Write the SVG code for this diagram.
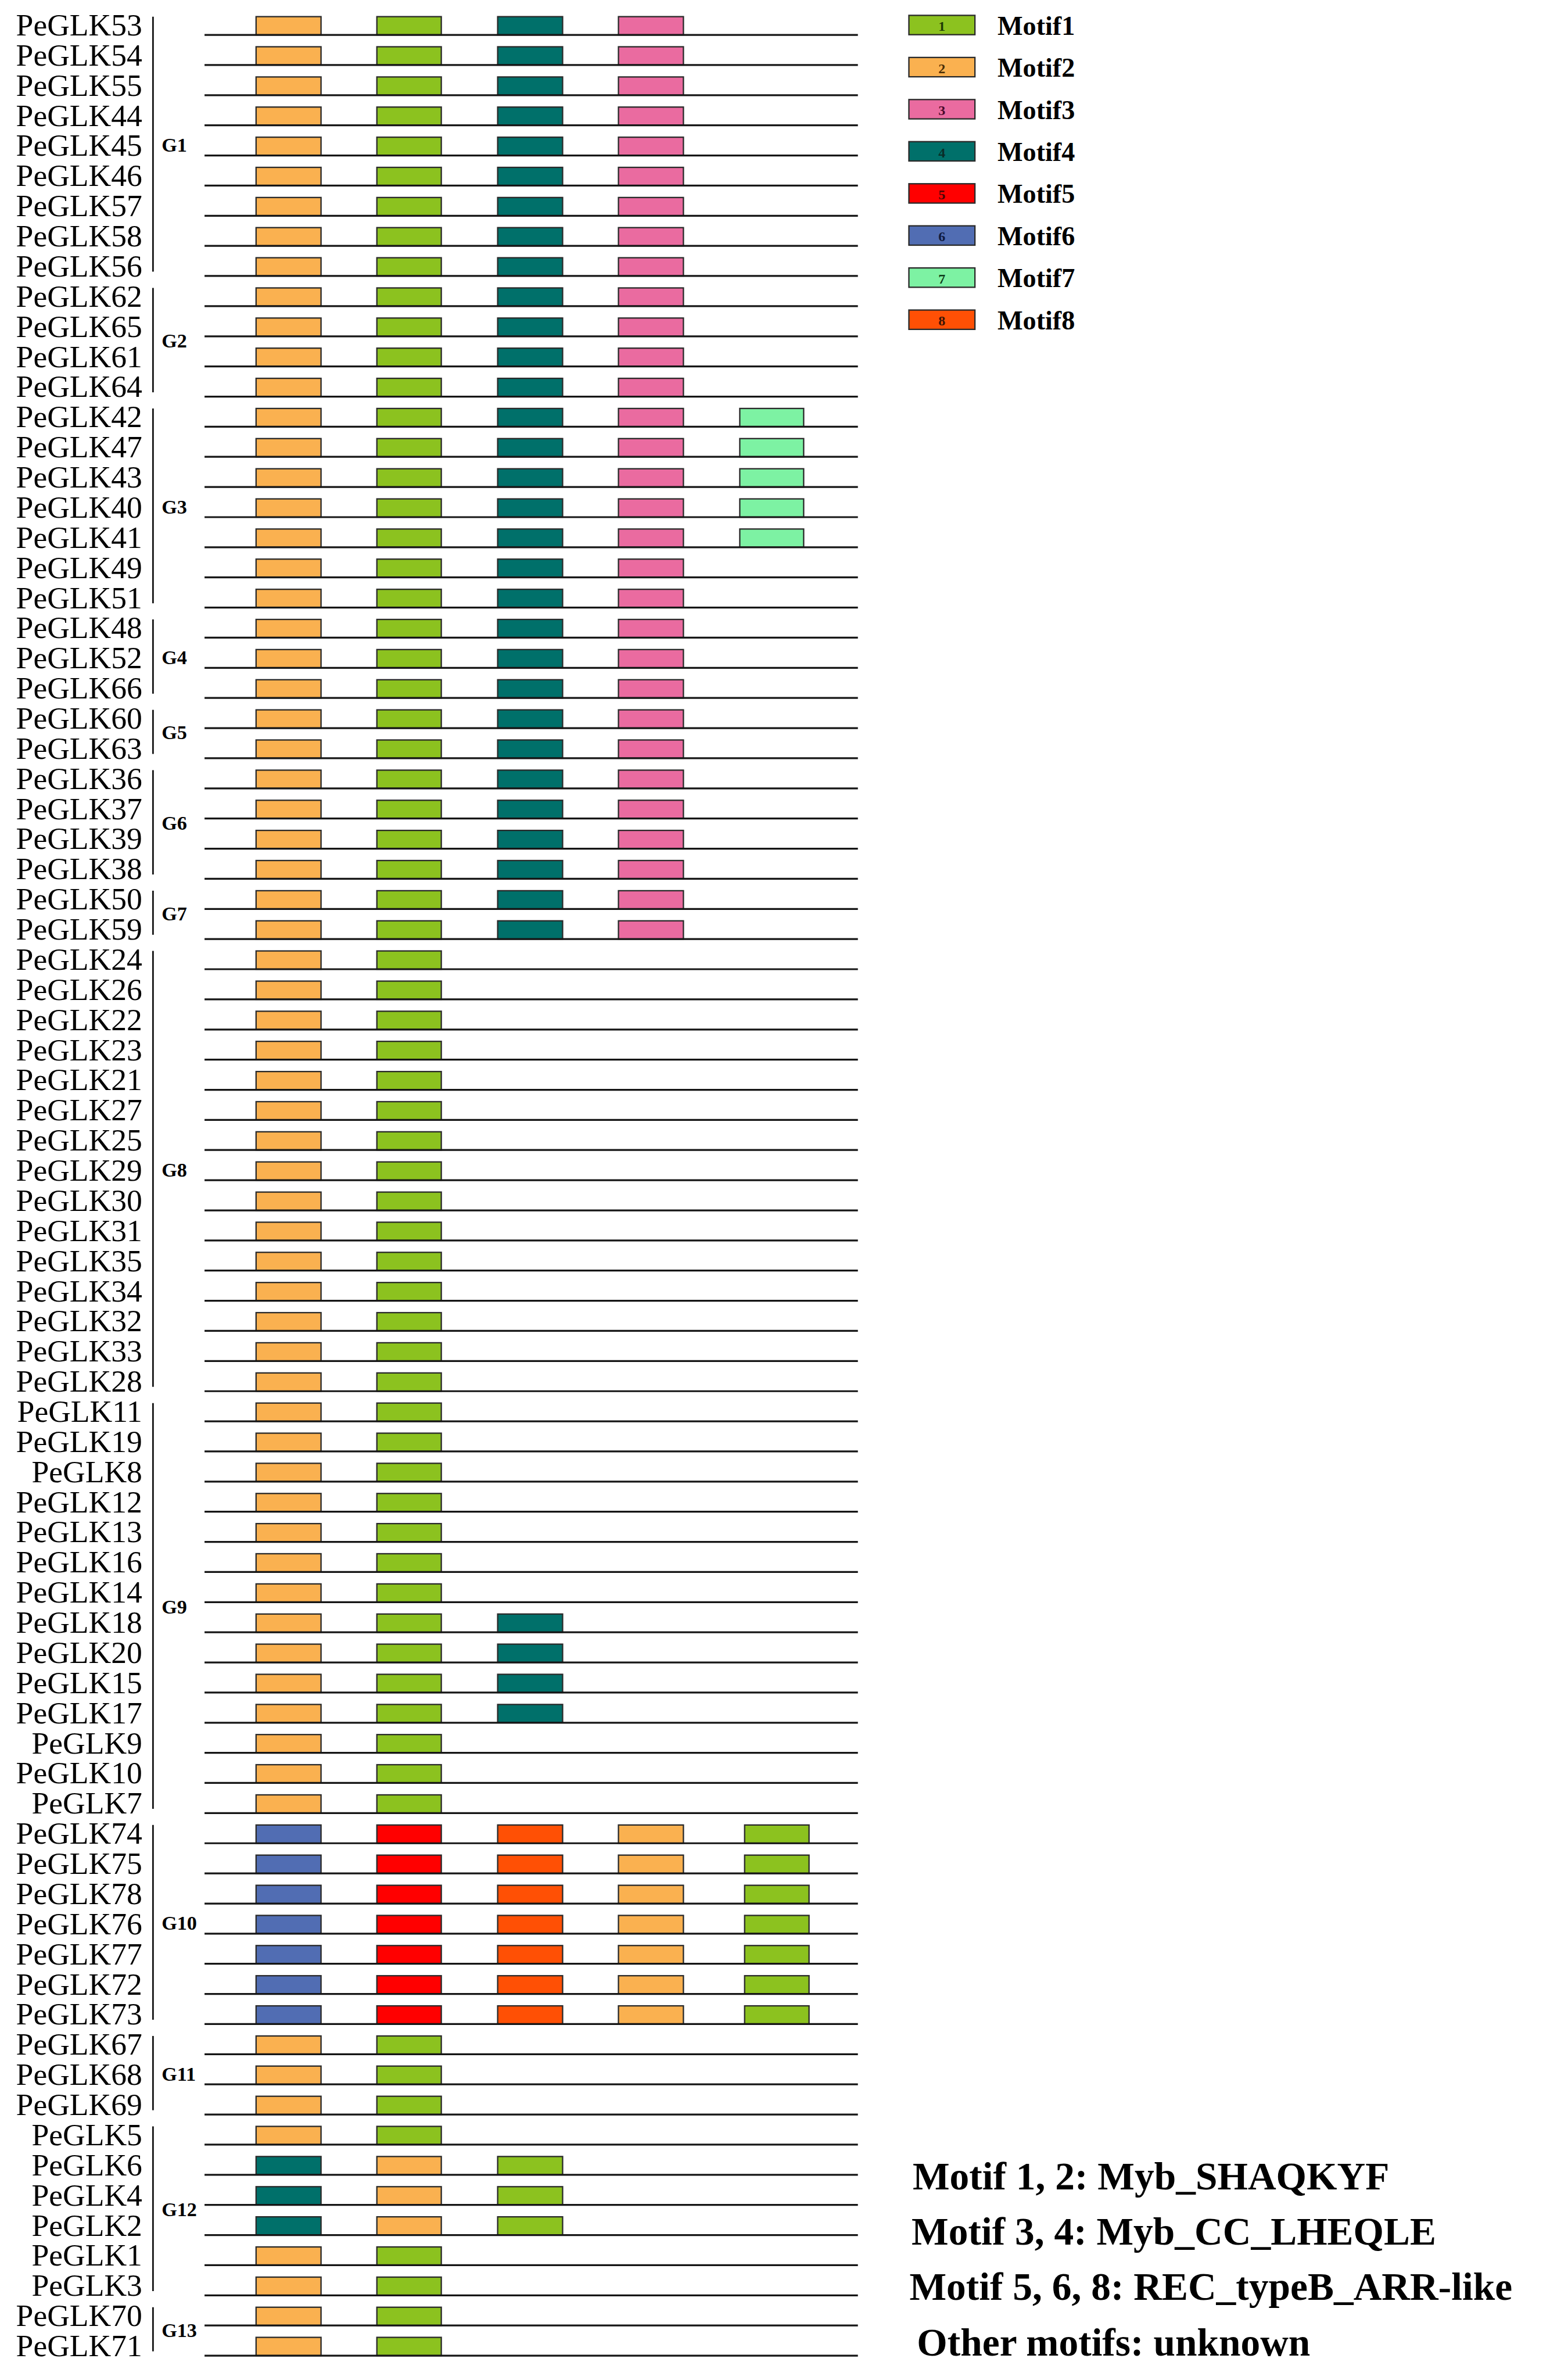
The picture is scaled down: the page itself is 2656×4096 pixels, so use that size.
<svg xmlns="http://www.w3.org/2000/svg" xmlns:xlink="http://www.w3.org/1999/xlink" width="2656" height="4096" viewBox="0 0 2656 4096">
<style>
.lbl{font-family:"Liberation Serif","Times New Roman",serif;font-size:58px;text-anchor:end;fill:#000}
.gl{font-family:"Liberation Serif","Times New Roman",serif;font-size:37px;font-weight:bold;fill:#000}
.lg{font-family:"Liberation Serif","Times New Roman",serif;font-size:50px;font-weight:bold;fill:#000}
.num{font-family:"Liberation Serif","Times New Roman",serif;font-size:26px;font-weight:bold;text-anchor:middle}
.note{font-family:"Liberation Serif","Times New Roman",serif;font-size:73px;font-weight:bold;fill:#000}
.ln{stroke:#161616;stroke-width:3.5}
.br{stroke:#111;stroke-width:3}
.bx{stroke:#2a2a2a;stroke-width:2.5}
.m1{fill:#8CC21F}.m2{fill:#FAB150}.m3{fill:#EA6BA0}.m4{fill:#00706A}
.m5{fill:#FF0000}.m6{fill:#516DB3}.m7{fill:#7DF2A3}.m8{fill:#FF5005}
</style>
<defs>
<g id="bk"><line class="ln" x1="381" y1="0" x2="1598" y2="0"/></g>
<g id="pA"><rect class="bx m2" x="477" y="-34" width="121" height="34"/><rect class="bx m1" x="702" y="-34" width="120" height="34"/><rect class="bx m4" x="927" y="-34" width="121" height="34"/><rect class="bx m3" x="1152" y="-34" width="121" height="34"/><use href="#bk"/></g>
<g id="pB"><rect class="bx m2" x="477" y="-34" width="121" height="34"/><rect class="bx m1" x="702" y="-34" width="120" height="34"/><use href="#bk"/></g>
<g id="pC"><rect class="bx m2" x="477" y="-34" width="121" height="34"/><rect class="bx m1" x="702" y="-34" width="120" height="34"/><rect class="bx m4" x="927" y="-34" width="121" height="34"/><use href="#bk"/></g>
<g id="pD"><rect class="bx m2" x="477" y="-34" width="121" height="34"/><rect class="bx m1" x="702" y="-34" width="120" height="34"/><rect class="bx m4" x="927" y="-34" width="121" height="34"/><rect class="bx m3" x="1152" y="-34" width="121" height="34"/><rect class="bx m7" x="1378" y="-34" width="119" height="34"/><use href="#bk"/></g>
<g id="pE"><rect class="bx m6" x="477" y="-34" width="121" height="34"/><rect class="bx m5" x="702" y="-34" width="120" height="34"/><rect class="bx m8" x="927" y="-34" width="121" height="34"/><rect class="bx m2" x="1152" y="-34" width="121" height="34"/><rect class="bx m1" x="1387" y="-34" width="120" height="34"/><use href="#bk"/></g>
<g id="pF"><rect class="bx m4" x="477" y="-34" width="121" height="34"/><rect class="bx m2" x="702" y="-34" width="120" height="34"/><rect class="bx m1" x="927" y="-34" width="121" height="34"/><use href="#bk"/></g>
</defs>
<rect x="0" y="0" width="2656" height="4096" fill="#fff"/>
<g transform="scale(0.9241)">
<g id="genes">
<g id="PeGLK53" transform="translate(0,65)"><text class="lbl" x="265" y="1">PeGLK53</text><use href="#pA"/></g>
<g id="PeGLK54" transform="translate(0,121.1)"><text class="lbl" x="265" y="1">PeGLK54</text><use href="#pA"/></g>
<g id="PeGLK55" transform="translate(0,177.3)"><text class="lbl" x="265" y="1">PeGLK55</text><use href="#pA"/></g>
<g id="PeGLK44" transform="translate(0,233.4)"><text class="lbl" x="265" y="1">PeGLK44</text><use href="#pA"/></g>
<g id="PeGLK45" transform="translate(0,289.5)"><text class="lbl" x="265" y="1">PeGLK45</text><use href="#pA"/></g>
<g id="PeGLK46" transform="translate(0,345.7)"><text class="lbl" x="265" y="1">PeGLK46</text><use href="#pA"/></g>
<g id="PeGLK57" transform="translate(0,401.8)"><text class="lbl" x="265" y="1">PeGLK57</text><use href="#pA"/></g>
<g id="PeGLK58" transform="translate(0,457.9)"><text class="lbl" x="265" y="1">PeGLK58</text><use href="#pA"/></g>
<g id="PeGLK56" transform="translate(0,514)"><text class="lbl" x="265" y="1">PeGLK56</text><use href="#pA"/></g>
<g id="PeGLK62" transform="translate(0,570.2)"><text class="lbl" x="265" y="1">PeGLK62</text><use href="#pA"/></g>
<g id="PeGLK65" transform="translate(0,626.3)"><text class="lbl" x="265" y="1">PeGLK65</text><use href="#pA"/></g>
<g id="PeGLK61" transform="translate(0,682.4)"><text class="lbl" x="265" y="1">PeGLK61</text><use href="#pA"/></g>
<g id="PeGLK64" transform="translate(0,738.6)"><text class="lbl" x="265" y="1">PeGLK64</text><use href="#pA"/></g>
<g id="PeGLK42" transform="translate(0,794.7)"><text class="lbl" x="265" y="1">PeGLK42</text><use href="#pD"/></g>
<g id="PeGLK47" transform="translate(0,850.8)"><text class="lbl" x="265" y="1">PeGLK47</text><use href="#pD"/></g>
<g id="PeGLK43" transform="translate(0,907)"><text class="lbl" x="265" y="1">PeGLK43</text><use href="#pD"/></g>
<g id="PeGLK40" transform="translate(0,963.1)"><text class="lbl" x="265" y="1">PeGLK40</text><use href="#pD"/></g>
<g id="PeGLK41" transform="translate(0,1019.2)"><text class="lbl" x="265" y="1">PeGLK41</text><use href="#pD"/></g>
<g id="PeGLK49" transform="translate(0,1075.3)"><text class="lbl" x="265" y="1">PeGLK49</text><use href="#pA"/></g>
<g id="PeGLK51" transform="translate(0,1131.5)"><text class="lbl" x="265" y="1">PeGLK51</text><use href="#pA"/></g>
<g id="PeGLK48" transform="translate(0,1187.6)"><text class="lbl" x="265" y="1">PeGLK48</text><use href="#pA"/></g>
<g id="PeGLK52" transform="translate(0,1243.7)"><text class="lbl" x="265" y="1">PeGLK52</text><use href="#pA"/></g>
<g id="PeGLK66" transform="translate(0,1299.9)"><text class="lbl" x="265" y="1">PeGLK66</text><use href="#pA"/></g>
<g id="PeGLK60" transform="translate(0,1356)"><text class="lbl" x="265" y="1">PeGLK60</text><use href="#pA"/></g>
<g id="PeGLK63" transform="translate(0,1412.1)"><text class="lbl" x="265" y="1">PeGLK63</text><use href="#pA"/></g>
<g id="PeGLK36" transform="translate(0,1468.3)"><text class="lbl" x="265" y="1">PeGLK36</text><use href="#pA"/></g>
<g id="PeGLK37" transform="translate(0,1524.4)"><text class="lbl" x="265" y="1">PeGLK37</text><use href="#pA"/></g>
<g id="PeGLK39" transform="translate(0,1580.5)"><text class="lbl" x="265" y="1">PeGLK39</text><use href="#pA"/></g>
<g id="PeGLK38" transform="translate(0,1636.6)"><text class="lbl" x="265" y="1">PeGLK38</text><use href="#pA"/></g>
<g id="PeGLK50" transform="translate(0,1692.8)"><text class="lbl" x="265" y="1">PeGLK50</text><use href="#pA"/></g>
<g id="PeGLK59" transform="translate(0,1748.9)"><text class="lbl" x="265" y="1">PeGLK59</text><use href="#pA"/></g>
<g id="PeGLK24" transform="translate(0,1805)"><text class="lbl" x="265" y="1">PeGLK24</text><use href="#pB"/></g>
<g id="PeGLK26" transform="translate(0,1861.2)"><text class="lbl" x="265" y="1">PeGLK26</text><use href="#pB"/></g>
<g id="PeGLK22" transform="translate(0,1917.3)"><text class="lbl" x="265" y="1">PeGLK22</text><use href="#pB"/></g>
<g id="PeGLK23" transform="translate(0,1973.4)"><text class="lbl" x="265" y="1">PeGLK23</text><use href="#pB"/></g>
<g id="PeGLK21" transform="translate(0,2029.6)"><text class="lbl" x="265" y="1">PeGLK21</text><use href="#pB"/></g>
<g id="PeGLK27" transform="translate(0,2085.7)"><text class="lbl" x="265" y="1">PeGLK27</text><use href="#pB"/></g>
<g id="PeGLK25" transform="translate(0,2141.8)"><text class="lbl" x="265" y="1">PeGLK25</text><use href="#pB"/></g>
<g id="PeGLK29" transform="translate(0,2197.9)"><text class="lbl" x="265" y="1">PeGLK29</text><use href="#pB"/></g>
<g id="PeGLK30" transform="translate(0,2254.1)"><text class="lbl" x="265" y="1">PeGLK30</text><use href="#pB"/></g>
<g id="PeGLK31" transform="translate(0,2310.2)"><text class="lbl" x="265" y="1">PeGLK31</text><use href="#pB"/></g>
<g id="PeGLK35" transform="translate(0,2366.3)"><text class="lbl" x="265" y="1">PeGLK35</text><use href="#pB"/></g>
<g id="PeGLK34" transform="translate(0,2422.5)"><text class="lbl" x="265" y="1">PeGLK34</text><use href="#pB"/></g>
<g id="PeGLK32" transform="translate(0,2478.6)"><text class="lbl" x="265" y="1">PeGLK32</text><use href="#pB"/></g>
<g id="PeGLK33" transform="translate(0,2534.7)"><text class="lbl" x="265" y="1">PeGLK33</text><use href="#pB"/></g>
<g id="PeGLK28" transform="translate(0,2590.9)"><text class="lbl" x="265" y="1">PeGLK28</text><use href="#pB"/></g>
<g id="PeGLK11" transform="translate(0,2647)"><text class="lbl" x="265" y="1">PeGLK11</text><use href="#pB"/></g>
<g id="PeGLK19" transform="translate(0,2703.1)"><text class="lbl" x="265" y="1">PeGLK19</text><use href="#pB"/></g>
<g id="PeGLK8" transform="translate(0,2759.2)"><text class="lbl" x="265" y="1">PeGLK8</text><use href="#pB"/></g>
<g id="PeGLK12" transform="translate(0,2815.4)"><text class="lbl" x="265" y="1">PeGLK12</text><use href="#pB"/></g>
<g id="PeGLK13" transform="translate(0,2871.5)"><text class="lbl" x="265" y="1">PeGLK13</text><use href="#pB"/></g>
<g id="PeGLK16" transform="translate(0,2927.6)"><text class="lbl" x="265" y="1">PeGLK16</text><use href="#pB"/></g>
<g id="PeGLK14" transform="translate(0,2983.8)"><text class="lbl" x="265" y="1">PeGLK14</text><use href="#pB"/></g>
<g id="PeGLK18" transform="translate(0,3039.9)"><text class="lbl" x="265" y="1">PeGLK18</text><use href="#pC"/></g>
<g id="PeGLK20" transform="translate(0,3096)"><text class="lbl" x="265" y="1">PeGLK20</text><use href="#pC"/></g>
<g id="PeGLK15" transform="translate(0,3152.2)"><text class="lbl" x="265" y="1">PeGLK15</text><use href="#pC"/></g>
<g id="PeGLK17" transform="translate(0,3208.3)"><text class="lbl" x="265" y="1">PeGLK17</text><use href="#pC"/></g>
<g id="PeGLK9" transform="translate(0,3264.4)"><text class="lbl" x="265" y="1">PeGLK9</text><use href="#pB"/></g>
<g id="PeGLK10" transform="translate(0,3320.5)"><text class="lbl" x="265" y="1">PeGLK10</text><use href="#pB"/></g>
<g id="PeGLK7" transform="translate(0,3376.7)"><text class="lbl" x="265" y="1">PeGLK7</text><use href="#pB"/></g>
<g id="PeGLK74" transform="translate(0,3432.8)"><text class="lbl" x="265" y="1">PeGLK74</text><use href="#pE"/></g>
<g id="PeGLK75" transform="translate(0,3488.9)"><text class="lbl" x="265" y="1">PeGLK75</text><use href="#pE"/></g>
<g id="PeGLK78" transform="translate(0,3545.1)"><text class="lbl" x="265" y="1">PeGLK78</text><use href="#pE"/></g>
<g id="PeGLK76" transform="translate(0,3601.2)"><text class="lbl" x="265" y="1">PeGLK76</text><use href="#pE"/></g>
<g id="PeGLK77" transform="translate(0,3657.3)"><text class="lbl" x="265" y="1">PeGLK77</text><use href="#pE"/></g>
<g id="PeGLK72" transform="translate(0,3713.5)"><text class="lbl" x="265" y="1">PeGLK72</text><use href="#pE"/></g>
<g id="PeGLK73" transform="translate(0,3769.6)"><text class="lbl" x="265" y="1">PeGLK73</text><use href="#pE"/></g>
<g id="PeGLK67" transform="translate(0,3825.7)"><text class="lbl" x="265" y="1">PeGLK67</text><use href="#pB"/></g>
<g id="PeGLK68" transform="translate(0,3881.8)"><text class="lbl" x="265" y="1">PeGLK68</text><use href="#pB"/></g>
<g id="PeGLK69" transform="translate(0,3938)"><text class="lbl" x="265" y="1">PeGLK69</text><use href="#pB"/></g>
<g id="PeGLK5" transform="translate(0,3994.1)"><text class="lbl" x="265" y="1">PeGLK5</text><use href="#pB"/></g>
<g id="PeGLK6" transform="translate(0,4050.2)"><text class="lbl" x="265" y="1">PeGLK6</text><use href="#pF"/></g>
<g id="PeGLK4" transform="translate(0,4106.4)"><text class="lbl" x="265" y="1">PeGLK4</text><use href="#pF"/></g>
<g id="PeGLK2" transform="translate(0,4162.5)"><text class="lbl" x="265" y="1">PeGLK2</text><use href="#pF"/></g>
<g id="PeGLK1" transform="translate(0,4218.6)"><text class="lbl" x="265" y="1">PeGLK1</text><use href="#pB"/></g>
<g id="PeGLK3" transform="translate(0,4274.8)"><text class="lbl" x="265" y="1">PeGLK3</text><use href="#pB"/></g>
<g id="PeGLK70" transform="translate(0,4330.9)"><text class="lbl" x="265" y="1">PeGLK70</text><use href="#pB"/></g>
<g id="PeGLK71" transform="translate(0,4387)"><text class="lbl" x="265" y="1">PeGLK71</text><use href="#pB"/></g>
</g>
<g id="groups">
<g id="G1"><line class="br" x1="285" y1="31" x2="285" y2="506"/><text class="gl" x="301" y="282.5">G1</text></g>
<g id="G2"><line class="br" x1="285" y1="536.2" x2="285" y2="730.6"/><text class="gl" x="301" y="647.4">G2</text></g>
<g id="G3"><line class="br" x1="285" y1="760.7" x2="285" y2="1123.5"/><text class="gl" x="301" y="956.1">G3</text></g>
<g id="G4"><line class="br" x1="285" y1="1153.6" x2="285" y2="1291.9"/><text class="gl" x="301" y="1236.7">G4</text></g>
<g id="G5"><line class="br" x1="285" y1="1322" x2="285" y2="1404.1"/><text class="gl" x="301" y="1377">G5</text></g>
<g id="G6"><line class="br" x1="285" y1="1434.3" x2="285" y2="1628.6"/><text class="gl" x="301" y="1545.5">G6</text></g>
<g id="G7"><line class="br" x1="285" y1="1658.8" x2="285" y2="1740.9"/><text class="gl" x="301" y="1713.9">G7</text></g>
<g id="G8"><line class="br" x1="285" y1="1771" x2="285" y2="2582.9"/><text class="gl" x="301" y="2191">G8</text></g>
<g id="G9"><line class="br" x1="285" y1="2613" x2="285" y2="3368.7"/><text class="gl" x="301" y="3004.8">G9</text></g>
<g id="G10"><line class="br" x1="285" y1="3398.8" x2="285" y2="3761.6"/><text class="gl" x="301" y="3594.2">G10</text></g>
<g id="G11"><line class="br" x1="285" y1="3791.7" x2="285" y2="3930"/><text class="gl" x="301" y="3874.9">G11</text></g>
<g id="G12"><line class="br" x1="285" y1="3960.1" x2="285" y2="4266.8"/><text class="gl" x="301" y="4127.4">G12</text></g>
<g id="G13"><line class="br" x1="285" y1="4296.9" x2="285" y2="4379"/><text class="gl" x="301" y="4352">G13</text></g>
</g>
<g id="legend">
<g id="leg1"><rect class="bx m1" x="1693" y="28.6" width="123" height="36"/><text class="num" x="1754.5" y="57.6" fill="#1d3a05">1</text><text class="lg" x="1858" y="64.6">Motif1</text></g>
<g id="leg2"><rect class="bx m2" x="1693" y="107" width="123" height="36"/><text class="num" x="1754.5" y="136" fill="#4a2e05">2</text><text class="lg" x="1858" y="143">Motif2</text></g>
<g id="leg3"><rect class="bx m3" x="1693" y="185.4" width="123" height="36"/><text class="num" x="1754.5" y="214.4" fill="#4a0a2a">3</text><text class="lg" x="1858" y="221.4">Motif3</text></g>
<g id="leg4"><rect class="bx m4" x="1693" y="263.8" width="123" height="36"/><text class="num" x="1754.5" y="292.8" fill="#0a2d28">4</text><text class="lg" x="1858" y="299.8">Motif4</text></g>
<g id="leg5"><rect class="bx m5" x="1693" y="342.2" width="123" height="36"/><text class="num" x="1754.5" y="371.2" fill="#4a0505">5</text><text class="lg" x="1858" y="378.2">Motif5</text></g>
<g id="leg6"><rect class="bx m6" x="1693" y="420.6" width="123" height="36"/><text class="num" x="1754.5" y="449.6" fill="#0f1a40">6</text><text class="lg" x="1858" y="456.6">Motif6</text></g>
<g id="leg7"><rect class="bx m7" x="1693" y="499" width="123" height="36"/><text class="num" x="1754.5" y="528" fill="#0d3d1a">7</text><text class="lg" x="1858" y="535">Motif7</text></g>
<g id="leg8"><rect class="bx m8" x="1693" y="577.4" width="123" height="36"/><text class="num" x="1754.5" y="606.4" fill="#3d1505">8</text><text class="lg" x="1858" y="613.4">Motif8</text></g>
</g>
<g id="notes">
<text class="note" x="1700" y="4077">Motif 1, 2: Myb_SHAQKYF</text>
<text class="note" x="1698" y="4180">Motif 3, 4: Myb_CC_LHEQLE</text>
<text class="note" x="1694" y="4283">Motif 5, 6, 8: REC_typeB_ARR-like</text>
<text class="note" x="1708" y="4387">Other motifs: unknown</text>
</g>
</g>
</svg>
